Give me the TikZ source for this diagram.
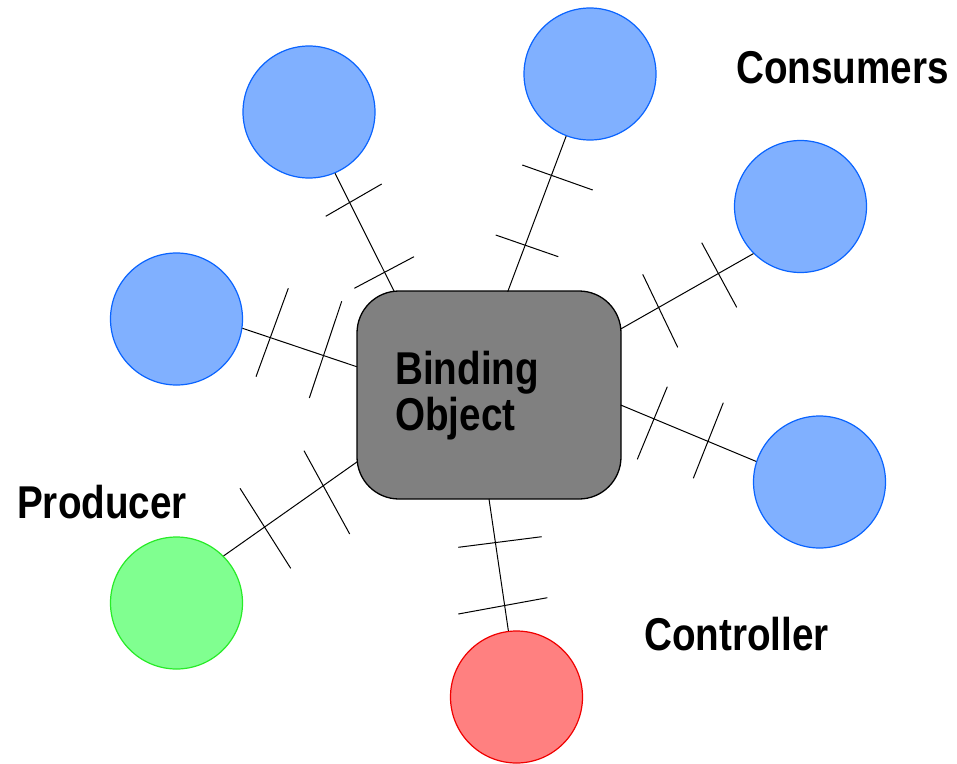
\documentclass[tikz,border=0pt]{standalone}
\usepackage{fontspec}
\newfontfamily\lblfont{Liberation Sans}[FakeStretch=0.84]
\definecolor{bluefill}{RGB}{128,176,255}
\definecolor{bluedraw}{RGB}{10,100,255}
\definecolor{greenfill}{RGB}{128,255,144}
\definecolor{greendraw}{RGB}{40,235,40}
\definecolor{redfill}{RGB}{255,128,128}
\definecolor{reddraw}{RGB}{240,0,0}
\definecolor{boxfill}{RGB}{128,128,128}
\tikzset{
  ball/.style={circle, minimum size=132pt, inner sep=0pt, line width=1.2pt},
  consumer/.style={ball, fill=bluefill, draw=bluedraw},
  producer/.style={ball, fill=greenfill, draw=greendraw},
  controller/.style={ball, fill=redfill, draw=reddraw},
  binding/.style={rectangle, rounded corners=42pt, minimum width=264pt, minimum height=208pt, fill=boxfill, draw=black, line width=1.3pt},
  lbl/.style={inner sep=0pt, anchor=base west, font=\lblfont\bfseries\fontsize{46}{46}\selectfont},
  link/.style={draw=black, line width=1pt},
  tick/.style={draw=black, line width=1pt}
}
\begin{document}
\begin{tikzpicture}[x=1pt,y=-1pt]
\useasboundingbox (0,0) rectangle (957,763);
% binding object
\node[binding] (bo) at (489,395) {};
\node[lbl] (bt1) at (395,384) {Binding};
\node[lbl] (bt2) at (395,430) {Object};
% circles
\node[consumer] (c1) at (309,112) {};
\node[consumer] (c2) at (590,74) {};
\node[consumer] (c3) at (800.5,206.5) {};
\node[consumer] (c4) at (176.5,319) {};
\node[consumer] (c5) at (819.5,482) {};
\node[producer] (c6) at (176.5,603) {};
\node[controller] (c7) at (516.5,697) {};
% labels
\node[lbl] (lc) at (736,83) {Consumers};
\node[lbl] (lp) at (17,518) {Producer};
\node[lbl] (lr) at (644,650) {Controller};
% box end points
\coordinate (b1) at (394.3,291.7);
\coordinate (b2) at (507.7,291.7);
\coordinate (b3) at (620.7,329);
\coordinate (b4) at (356.7,366.7);
\coordinate (b5) at (620.7,405);
\coordinate (b6) at (357.3,461.7);
\coordinate (b7) at (489,499);
% connectors
\draw[link] (c1.-67) -- (b1);
\draw[link] (c2.-111) -- (b2);
\draw[link] (c3.-135.3) -- (b3);
\draw[link] (c4.-8.8) -- (b4);
\draw[link] (c5.162.2) -- (b5);
\draw[link] (c6.45.1) -- (b6);
\draw[link] (c7.97.7) -- (b7);
% ticks
\draw[tick] (325.7,216.3) -- (381.7,184);
\draw[tick] (354.3,288.3) -- (414,256.7);
\draw[tick] (522.3,165) -- (592.7,190);
\draw[tick] (495.7,235) -- (558.3,256.7);
\draw[tick] (642.7,274.3) -- (677.7,347.3);
\draw[tick] (701.7,242.7) -- (736.7,307.3);
\draw[tick] (256,376.7) -- (288.3,288.3);
\draw[tick] (309.3,398) -- (341.7,301.3);
\draw[tick] (667.3,386.7) -- (637.3,459.3);
\draw[tick] (723.3,402.7) -- (693.3,478.3);
\draw[tick] (240,488.3) -- (290.7,568.3);
\draw[tick] (304,450.7) -- (349.7,534);
\draw[tick] (458.3,547.3) -- (541.7,536.7);
\draw[tick] (458.3,614) -- (547.3,597.7);
\end{tikzpicture}
\end{document}
